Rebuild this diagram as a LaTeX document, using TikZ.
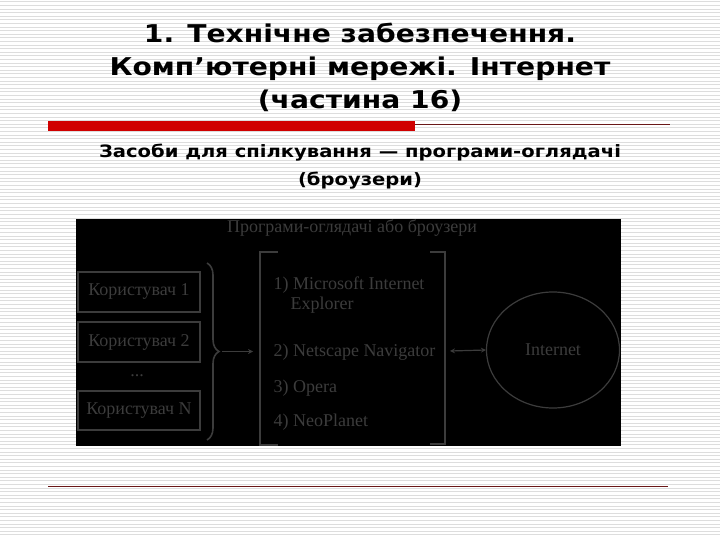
\documentclass[tikz,border=0pt]{standalone}
\usepackage{fontspec}
\setmainfont{DejaVu Sans}
\newfontfamily\headfont{DejaVu Sans}[FakeStretch=1.15]
\newfontfamily\boxfont{Liberation Serif}
\usetikzlibrary{arrows.meta,decorations.pathreplacing,shapes.geometric}
\tikzset{>=stealth}
\definecolor{stripe}{HTML}{DDDDDD}
\definecolor{barred}{HTML}{D00000}
\definecolor{linered}{HTML}{6A1818}
\definecolor{dimgray}{HTML}{3C3C3C}
\tikzset{
  user/.style={draw=dimgray,line width=1.2pt,minimum width=122pt,minimum height=40pt,
    text=dimgray,font=\boxfont\fontsize{18}{20}\selectfont},
  item/.style={anchor=west,text=dimgray,font=\boxfont\fontsize{18}{20}\selectfont},
  wire/.style={draw=dimgray,line width=1.2pt}
}
\begin{document}
\begin{tikzpicture}[x=1pt,y=-1pt]
\useasboundingbox (0,0) rectangle (720,540);
\fill[white] (0,0) rectangle (720,540);
\foreach \y in {2,5.6,...,538}
\draw[stripe,line width=1pt] (0,\y) -- (720,\y);
% heading
\node[font=\headfont\bfseries\fontsize{24.5}{33}\selectfont,align=center] (title) at (360,67)
  {1. Технічне забезпечення.\\Комп’ютерні мережі. Інтернет\\(частина 16)};
\fill[barred] (48,121) rectangle (415,131);
\draw[linered] (415,124) -- (670,124);
\node[font=\headfont\bfseries\fontsize{17}{28}\selectfont,align=center] (sub) at (360,167)
  {Засоби для спілкування — програми-оглядачі\\(броузери)};
% picture
\fill[black] (76,219) rectangle (621,446);
\node[item,anchor=center] (hdr) at (352,228) {Програми-оглядачі або броузери};
\node[user] (u1) at (139,292) {Користувач 1};
\node[user] (u2) at (139,342) {Користувач 2};
\node[item,anchor=center] (dots) at (137,376) {...};
\node[user,minimum height=39pt] (uN) at (139,410.5) {Користувач N};
\coordinate (bt) at (207,263);
\coordinate (bb) at (207,440);
\coordinate (tip) at (222,351.5);
\draw[wire,line width=1.6pt,decorate,decoration={brace,amplitude=12pt}] (bt) -- (bb);
\draw[wire] (278,252) -- (260,252) -- (260,445) -- (278,445);
\coordinate (ll) at (253,351.5);
\draw[wire,->] (tip) -- (ll);
\node[item] (i1) at (270,285) {1) Microsoft Internet};
\node[item] (i1b) at (287,305) {Explorer};
\node[item] (i2) at (270,352) {2) Netscape Navigator};
\node[item] (i3) at (270,388) {3) Opera};
\node[item] (i4) at (270,422) {4) NeoPlanet};
\draw[wire] (430,252) -- (445,252) -- (445,444) -- (430,444);
\node[wire,ellipse,minimum width=133pt,minimum height=116pt,text=dimgray,
  font=\boxfont\fontsize{18}{20}\selectfont] (net) at (553,350) {Internet};
\coordinate (rb) at (450,351);
\draw[wire,<->] (rb) -- (net.west);
% bottom rule
\draw[linered,line width=1pt] (48,486) -- (668,486);
\end{tikzpicture}
\end{document}
